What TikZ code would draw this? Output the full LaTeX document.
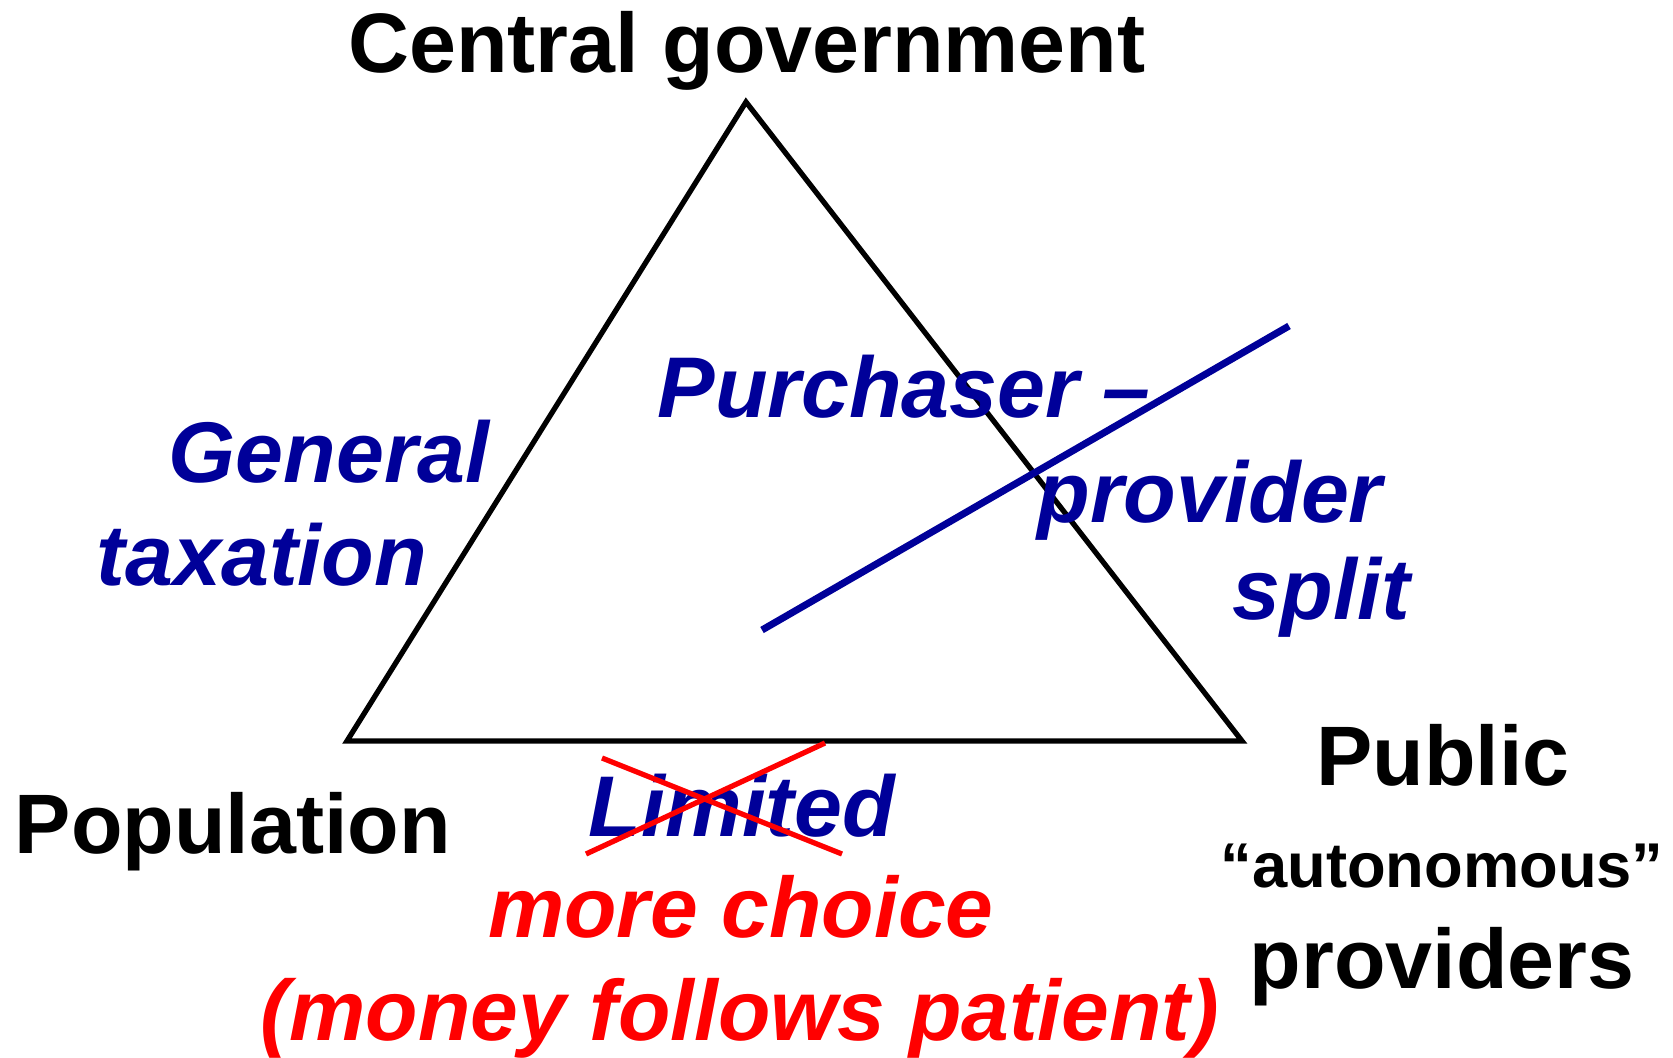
\documentclass[tikz,border=0pt]{standalone}
\usepackage{fontspec}
\setmainfont{Liberation Sans}
\definecolor{ppblue}{RGB}{0,0,153}
\tikzset{
  lbl/.style = {inner sep=0pt, anchor=base,
    font=\bfseries\fontsize{24}{29}\selectfont},
  lbl_k/.style = {lbl, black},% acteur, noir
  lbl_ks/.style = {lbl, black, font=\bfseries\fontsize{18}{22}\selectfont},% petit, noir
  lbl_b/.style = {lbl, ppblue, font=\bfseries\itshape\fontsize{24.5}{29}\selectfont},% relation, bleu
  lbl_r/.style = {lbl, red, font=\bfseries\itshape\fontsize{24.4}{29}\selectfont},% reforme, rouge
  edge_k/.style = {draw=black, line width=1.5pt},
  edge_b/.style = {draw=ppblue, line width=2pt},
  edge_r/.style = {draw=red, line width=1.5pt}
}
\begin{document}
\begin{tikzpicture}[x=0.01cm, y=-0.01cm]
\useasboundingbox (0,0) rectangle (1673,1058);
% triangle
\coordinate (gov) at (746,102);
\coordinate (pop) at (347,741);
\coordinate (prov) at (1242,741);
\draw [edge_k] (gov) -- (prov) -- (pop) -- cycle;
% acteurs
\node [lbl_k] (govlbl) at (747,73) {Central government};
\node [lbl_k] (poplbl) at (233,853) {Population};
\node [lbl_k] (pub1) at (1443,785) {Public};
\node [lbl_ks] (pub2) at (1442,887) {“autonomous”};
\node [lbl_k] (pub3) at (1442,988) {providers};
% relations
\node [lbl_b, anchor=base west] (gen1) at (168,482) {General};
\node [lbl_b, anchor=base west] (gen2) at (96,585) {taxation};
\node [lbl_b, anchor=base west] (pps1) at (657,418) {Purchaser –};
\node [lbl_b, anchor=base west] (pps2) at (1037,522) {provider};
\node [lbl_b, anchor=base west] (pps3) at (1232,619) {split};
\node [lbl_b] (lim) at (742,836) {Limited};
\node [lbl_r] (ch1) at (741,937) {more choice};
\node [lbl_r] (ch2) at (740,1040) {(money follows patient)};
% traits
\coordinate (sp_a) at (762,630);
\coordinate (sp_b) at (1289,326);
\draw [edge_b] (sp_a) -- (sp_b);
\coordinate (x1_a) at (602,758);
\coordinate (x1_b) at (842,854);
\coordinate (x2_a) at (586,854);
\coordinate (x2_b) at (825,743);
\draw [edge_r] (x1_a) -- (x1_b);
\draw [edge_r] (x2_a) -- (x2_b);
\end{tikzpicture}
\end{document}
